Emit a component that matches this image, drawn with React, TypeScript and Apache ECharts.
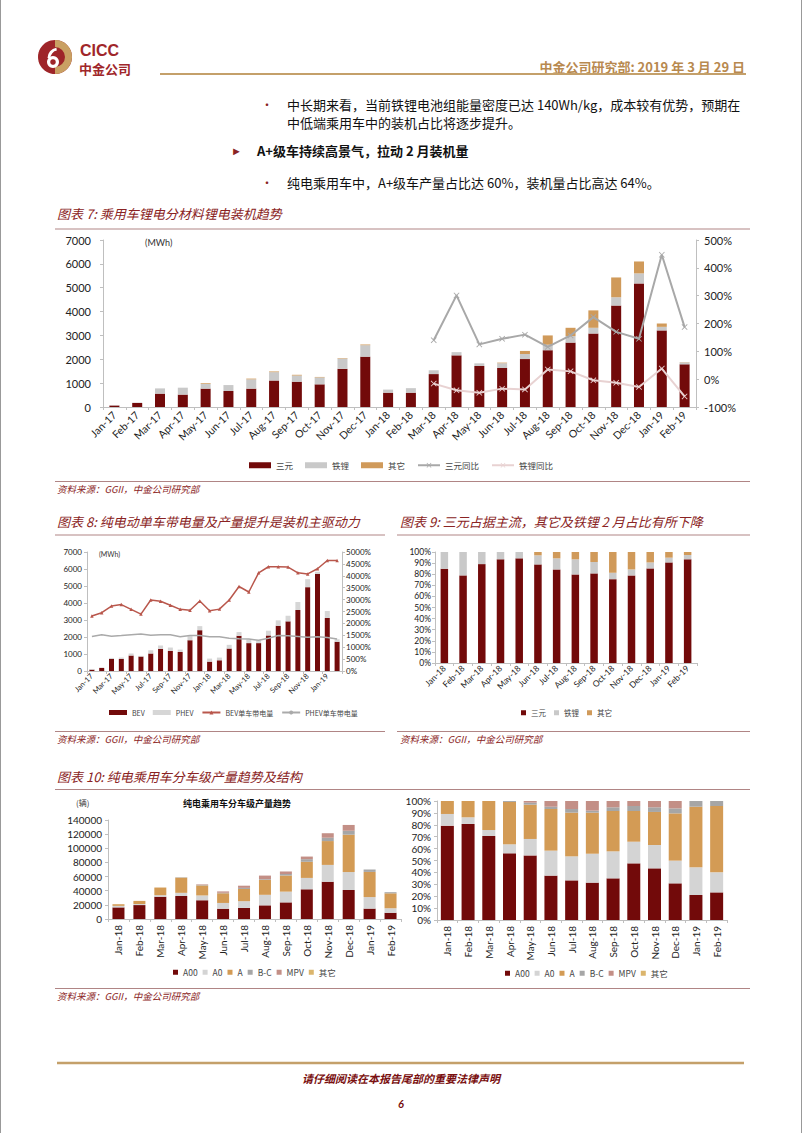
import React, { useEffect, useRef } from "react";
import * as echarts from "echarts";

// ---------- Data ----------
const months26 = [
  "Jan-17", "Feb-17", "Mar-17", "Apr-17", "May-17", "Jun-17", "Jul-17", "Aug-17", "Sep-17", "Oct-17", "Nov-17", "Dec-17",
  "Jan-18", "Feb-18", "Mar-18", "Apr-18", "May-18", "Jun-18", "Jul-18", "Aug-18", "Sep-18", "Oct-18", "Nov-18", "Dec-18",
  "Jan-19", "Feb-19",
];
const months14 = [
  "Jan-18", "Feb-18", "Mar-18", "Apr-18", "May-18", "Jun-18", "Jul-18", "Aug-18", "Sep-18", "Oct-18", "Nov-18", "Dec-18",
  "Jan-19", "Feb-19",
];
const yoyMonths = ["Mar-18", "Apr-18", "May-18", "Jun-18", "Jul-18", "Aug-18", "Sep-18", "Oct-18", "Nov-18", "Dec-18", "Jan-19", "Feb-19"];

// Chart 7 (MWh)
const c7Ternary = [60, 170, 560, 520, 770, 670, 770, 1110, 1060, 950, 1600, 2110, 600, 600, 1380, 2165, 1720, 1635, 2010, 2380, 2700, 3080, 4250, 5180, 3210, 1790];
const c7LFP = [10, 10, 220, 290, 200, 250, 390, 350, 260, 290, 430, 480, 130, 190, 160, 135, 110, 200, 210, 230, 270, 240, 350, 420, 150, 80];
const c7Other = [0, 0, 0, 0, 30, 0, 30, 30, 30, 20, 20, 30, 0, 0, 0, 0, 0, 25, 130, 390, 350, 730, 830, 500, 140, 10];
const c7TernaryYoY = [140, 301, 125, 145, 160, 116, 157, 223, 170, 145, 447, 187];
const c7LFPYoY = [-16, -40, -49, -34, -37, 35, 28, -4, -13, -28, 38, -62];
const c7LeftTicks = { min: 0, max: 7000, interval: 1000 };
const c7RightTicks = { min: -100, max: 500, interval: 100 };

// Chart 8
const c8BEV = [80, 180, 710, 710, 910, 850, 1030, 1300, 1180, 1120, 1810, 2400, 550, 630, 1320, 2070, 1640, 1640, 2090, 2660, 2920, 3590, 4930, 5720, 3120, 1720];
const c8PHEV = [40, 20, 60, 80, 120, 40, 190, 200, 200, 140, 240, 240, 180, 160, 220, 220, 210, 160, 280, 320, 330, 470, 470, 120, 410, 150];
const c8BEVPer = [2310, 2450, 2730, 2790, 2590, 2390, 2985, 2930, 2760, 2590, 2550, 2940, 2530, 2600, 2985, 3550, 3320, 4125, 4380, 4380, 4365, 4125, 4080, 4295, 4645, 4645];
const c8PHEVPer = [1450, 1520, 1465, 1490, 1520, 1550, 1505, 1520, 1520, 1435, 1490, 1490, 1435, 1435, 1380, 1350, 1340, 1295, 1380, 1490, 1480, 1450, 1420, 1435, 1410, 1340];
const c8LeftTicks = { min: 0, max: 7000, interval: 1000 };
const c8RightTicks = { min: 0, max: 5000, interval: 500 };

// Chart 9 (%)
const c9Ternary = [84.9, 78.9, 89.1, 93.4, 94.3, 88.8, 84.3, 79.8, 80.7, 75.5, 78.9, 85.2, 90.6, 93.4];
const c9LFP = [15.1, 21.1, 10.9, 6.6, 5.7, 8.2, 10.0, 13.6, 10.3, 5.8, 5.4, 5.4, 4.3, 3.9];
const c9Other = [0, 0, 0, 0, 0, 3.0, 5.7, 6.6, 9.0, 18.7, 15.7, 9.4, 5.1, 2.7];
const pctTicks = { min: 0, max: 100, interval: 10 };

// Chart 10 left (辆)
const c10A00 = [16400, 19700, 31500, 32500, 26500, 14500, 15700, 19300, 23500, 42000, 52700, 41000, 14700, 8800];
const c10A0 = [2200, 1500, 2200, 4500, 6800, 8200, 9500, 14900, 15200, 16100, 23800, 25400, 16300, 6400];
const c10A = [2300, 4400, 10800, 21500, 14200, 13700, 17300, 21200, 22800, 22800, 33700, 52800, 35600, 21100];
const c10BC = [0, 0, 0, 500, 800, 700, 1500, 1000, 2100, 3700, 4700, 5600, 3400, 1600];
const c10MPV = [0, 0, 0, 0, 700, 1900, 3100, 5000, 3600, 3700, 6400, 8200, 0, 0];
const c10Other = [0, 0, 0, 0, 0, 0, 0, 0, 0, 0, 0, 0, 0, 0];
const c10Ticks = { min: 0, max: 140000, interval: 20000 };

// Chart 10 right (%)
const c10pA00 = [79.3, 80.7, 70.6, 56.0, 54.3, 37.3, 33.3, 31.4, 35.0, 47.6, 43.4, 30.8, 21.0, 23.2];
const c10pA0 = [9.8, 5.6, 5.0, 7.6, 13.8, 21.0, 20.2, 24.3, 22.7, 18.2, 19.6, 19.1, 23.3, 16.9];
const c10pA = [10.9, 13.7, 24.4, 35.6, 28.8, 35.0, 36.7, 34.5, 33.9, 25.8, 27.8, 39.7, 50.9, 55.7];
const c10pBC = [0, 0, 0, 0.8, 1.7, 1.9, 3.1, 1.7, 3.1, 4.2, 3.9, 4.2, 4.8, 4.2];
const c10pMPV = [0, 0, 0, 0, 1.4, 4.8, 6.7, 8.1, 5.3, 4.2, 5.3, 6.2, 0, 0];
const c10pOther = [0, 0, 0, 0, 0, 0, 0, 0, 0, 0, 0, 0, 0, 0];

// ---------- Styles ----------
const DARK = "#720a0a";
const LGRAY = "#c9c9c9";
const ORANGE = "#d09a5a";
const RED = "#8a2323";
const GOLD = "#c4a06a";
const AXIS = "#bfbfbf";
const NUMFONT = 'Lato, "Noto Sans CJK SC", sans-serif';
const CJK = '"Noto Sans CJK SC", sans-serif';
const xSym = "path://M0,1L1,0L5,4L9,0L10,1L6,5L10,9L9,10L5,6L1,10L0,9L4,5Z";

function txt(x: number, y: number, text: string, o: any = {}) {
  return {
    type: "text",
    x,
    y,
    silent: true,
    style: {
      text,
      fill: o.fill || "#111",
      fontSize: o.size || 12,
      fontFamily: o.family || CJK,
      fontWeight: o.weight || "normal",
      fontStyle: o.style || "normal",
      align: o.align || "left",
      textAlign: o.align || "left",
      verticalAlign: "middle",
      textVerticalAlign: "middle",
    },
  };
}
function hline(x1: number, x2: number, y: number, stroke: string, w = 1) {
  return { type: "line", silent: true, shape: { x1, y1: y, x2, y2: y }, style: { stroke, lineWidth: w } };
}

function catAxis(grid: number, data: string[], o: any = {}) {
  return {
    type: "category",
    gridIndex: grid,
    data,
    boundaryGap: true,
    axisLine: { show: true, lineStyle: { color: AXIS } },
    axisTick: { show: true, length: 3, lineStyle: { color: AXIS } },
    axisLabel: {
      interval: o.interval ?? 0,
      rotate: o.rotate ?? 45,
      fontSize: o.fontSize ?? 10,
      color: "#222",
      fontFamily: NUMFONT,
      margin: o.margin ?? 5,
    },
  };
}
function valAxis(grid: number, t: any, o: any = {}) {
  return {
    type: "value",
    gridIndex: grid,
    position: o.position || "left",
    min: t.min,
    max: t.max,
    interval: t.interval,
    splitLine: { show: false },
    axisLine: { show: true, lineStyle: { color: AXIS } },
    axisTick: { show: true, length: 3, lineStyle: { color: AXIS } },
    axisLabel: {
      fontSize: o.fontSize ?? 10,
      color: "#222",
      fontFamily: NUMFONT,
      margin: o.margin ?? 6,
      formatter: o.pct ? (v: number) => `${v}%` : (v: number) => `${v}`,
    },
  };
}
function bar(name: string, data: number[], xi: number, yi: number, stack: string, color: string, w: number) {
  return {
    type: "bar",
    name,
    data,
    xAxisIndex: xi,
    yAxisIndex: yi,
    stack,
    barWidth: w,
    itemStyle: { color },
  };
}

export default function App() {
  const ref = useRef<HTMLDivElement>(null);
  useEffect(() => {
    if (!ref.current) return;
    const chart = echarts.init(ref.current, undefined, { renderer: "svg" });

    const graphics: any[] = [
      // page frame
      { type: "line", silent: true, shape: { x1: 0.5, y1: 0, x2: 0.5, y2: 1133 }, style: { stroke: "#999", lineWidth: 1 } },
      { type: "line", silent: true, shape: { x1: 801.5, y1: 0, x2: 801.5, y2: 1133 }, style: { stroke: "#999", lineWidth: 1 } },
      // logo
      { type: "circle", silent: true, shape: { cx: 55, cy: 57, r: 17 }, style: { fill: "#9e2529" } },
      { type: "sector", silent: true, shape: { cx: 55, cy: 57, r: 17, r0: 10, startAngle: -Math.PI / 2, endAngle: Math.PI / 2 }, style: { fill: "#c9a063" } },
      { type: "circle", silent: true, shape: { cx: 53, cy: 62, r: 6 }, style: { fill: "#fff" } },
      { type: "circle", silent: true, shape: { cx: 53, cy: 62, r: 2.8 }, style: { fill: "#9e2529" } },
      { type: "arc", silent: true, shape: { cx: 58, cy: 58, r: 9, startAngle: Math.PI, endAngle: Math.PI * 1.45 }, style: { stroke: "#fff", lineWidth: 3, fill: "none" } },
      txt(80, 50, "CICC", { size: 16, weight: "bold", fill: "#a0262a", family: '"Liberation Sans", sans-serif' }),
      txt(79, 68, "中金公司", { size: 13, weight: "bold", fill: "#a0262a" }),
      txt(745, 66, "中金公司研究部: 2019 年 3 月 29 日", { size: 13, weight: "bold", fill: "#b8894f", align: "right" }),
      hline(160, 746, 74, GOLD, 2),
      // body text
      txt(261, 104, "•", { size: 12, fill: RED }),
      txt(287, 104, "中长期来看，当前铁锂电池组能量密度已达 140Wh/kg，成本较有优势，预期在", { size: 13 }),
      txt(287, 122, "中低端乘用车中的装机占比将逐步提升。", { size: 13 }),
      txt(231, 150, "►", { size: 11, fill: RED }),
      txt(257, 150, "A+级车持续高景气，拉动 2 月装机量", { size: 13, weight: "bold" }),
      txt(261, 182, "•", { size: 12, fill: RED }),
      txt(287, 182, "纯电乘用车中，A+级车产量占比达 60%，装机量占比高达 64%。", { size: 13 }),
      // chart 7 frame
      txt(57, 213, "图表 7: 乘用车锂电分材料锂电装机趋势", { size: 13, fill: RED, style: "italic" }),
      hline(55, 750, 229, "#b08585", 1),
      txt(145, 242, "(MWh)", { size: 9, fill: "#333", family: NUMFONT }),
      hline(55, 750, 481.5, "#b08585", 1),
      txt(57, 489, "资料来源：GGII，中金公司研究部", { size: 9.5, fill: RED, style: "italic" }),
      // chart 8/9 frame
      txt(57, 521, "图表 8: 纯电动单车带电量及产量提升是装机主驱动力", { size: 13, fill: RED, style: "italic" }),
      hline(55, 385, 535, "#b08585", 1),
      txt(400, 521, "图表 9: 三元占据主流，其它及铁锂 2 月占比有所下降", { size: 13, fill: RED, style: "italic" }),
      hline(397, 750, 535, "#b08585", 1),
      txt(99, 554, "(MWh)", { size: 7, fill: "#333", family: NUMFONT }),
      hline(55, 385, 731.5, "#b08585", 1),
      hline(397, 750, 731.5, "#b08585", 1),
      txt(57, 739, "资料来源：GGII，中金公司研究部", { size: 9.5, fill: RED, style: "italic" }),
      txt(400, 739, "资料来源：GGII，中金公司研究部", { size: 9.5, fill: RED, style: "italic" }),
      // chart 10 frame
      txt(57, 776, "图表 10: 纯电乘用车分车级产量趋势及结构", { size: 13, fill: RED, style: "italic" }),
      hline(55, 750, 789.5, "#b08585", 1),
      txt(76, 802, "(辆)", { size: 8, fill: "#333" }),
      txt(237, 803, "纯电乘用车分车级产量趋势", { size: 9, weight: "bold", fill: "#111", align: "center" }),
      hline(55, 750, 988.5, "#b08585", 1),
      txt(57, 996, "资料来源：GGII，中金公司研究部", { size: 9.5, fill: RED, style: "italic" }),
      // footer
      hline(57, 744, 1063, GOLD, 2.5),
      txt(401, 1078, "请仔细阅读在本报告尾部的重要法律声明", { size: 11, weight: "bold", style: "italic", fill: "#7a1010", align: "center" }),
      txt(401, 1103, "6", { size: 11, weight: "bold", style: "italic", fill: "#7a1010", align: "center", family: NUMFONT }),
    ];

    const legendText = (size: number) => ({ fontSize: size, color: "#444", fontFamily: CJK });

    const option: any = {
      animation: false,
      backgroundColor: "#fff",
      textStyle: { fontFamily: NUMFONT },
      grid: [
        { left: 103, top: 240, width: 593, height: 167 },
        { left: 87, top: 552, width: 255, height: 119 },
        { left: 435, top: 552, width: 262, height: 111 },
        { left: 108, top: 820, width: 293, height: 99 },
        { left: 437, top: 801, width: 290, height: 119 },
      ],
      xAxis: [
        catAxis(0, months26, { fontSize: 10.5, margin: 6 }),
        catAxis(1, months26, { interval: 1, fontSize: 7.5, margin: 4 }),
        catAxis(2, months14, { fontSize: 8.5, margin: 4 }),
        catAxis(3, months14, { rotate: 90, fontSize: 10, margin: 6 }),
        catAxis(4, months14, { rotate: 90, fontSize: 10, margin: 6 }),
      ],
      yAxis: [
        valAxis(0, c7LeftTicks, { fontSize: 11, margin: 12 }),
        valAxis(0, c7RightTicks, { position: "right", pct: true, fontSize: 11, margin: 8 }),
        valAxis(1, c8LeftTicks, { fontSize: 8, margin: 5 }),
        valAxis(1, c8RightTicks, { position: "right", pct: true, fontSize: 8, margin: 4 }),
        valAxis(2, pctTicks, { pct: true, fontSize: 8.5, margin: 4 }),
        valAxis(3, c10Ticks, { fontSize: 10, margin: 6 }),
        valAxis(4, pctTicks, { pct: true, fontSize: 10, margin: 6 }),
      ],
      legend: [
        {
          left: "center",
          top: 456,
          itemWidth: 22,
          itemHeight: 6,
          itemGap: 12,
          textStyle: legendText(8.5),
          data: [
            { name: "三元", icon: "rect" },
            { name: "铁锂", icon: "rect" },
            { name: "其它", icon: "rect", itemStyle: { color: ORANGE } },
            { name: "三元同比" },
            { name: "铁锂同比" },
          ],
        },
        {
          left: 104,
          top: 704,
          itemWidth: 18,
          itemHeight: 5,
          itemGap: 8,
          textStyle: legendText(7),
          data: [
            { name: "BEV", icon: "rect" },
            { name: "PHEV", icon: "rect" },
            { name: "BEV单车带电量" },
            { name: "PHEV单车带电量" },
          ],
        },
        {
          left: 516,
          top: 704,
          itemWidth: 5,
          itemHeight: 5,
          itemGap: 8,
          icon: "rect",
          textStyle: legendText(7.5),
          data: [
            { name: "三元" },
            { name: "铁锂" },
            { name: "其它", itemStyle: { color: ORANGE } },
          ],
        },
        {
          left: 168,
          top: 963,
          itemWidth: 5,
          itemHeight: 5,
          itemGap: 5,
          icon: "rect",
          textStyle: legendText(8.5),
          data: [
            { name: "A00" },
            { name: "A0" },
            { name: "A" },
            { name: "B-C" },
            { name: "MPV" },
            { name: "其它", itemStyle: { color: "#dbb56c" } },
          ],
        },
        {
          left: 500,
          top: 964,
          itemWidth: 5,
          itemHeight: 5,
          itemGap: 5,
          icon: "rect",
          textStyle: legendText(8.5),
          data: [
            { name: "A00" },
            { name: "A0" },
            { name: "A" },
            { name: "B-C" },
            { name: "MPV" },
            { name: "其它", itemStyle: { color: "#dbb56c" } },
          ],
        },
      ],
      series: [
        // chart 7
        bar("三元", c7Ternary, 0, 0, "s7", DARK, 10),
        bar("铁锂", c7LFP, 0, 0, "s7", LGRAY, 10),
        bar("其它", c7Other, 0, 0, "s7", ORANGE, 10),
        {
          type: "line",
          name: "三元同比",
          xAxisIndex: 0,
          yAxisIndex: 1,
          data: yoyMonths.map((m, i) => [m, c7TernaryYoY[i]]),
          symbol: xSym,
          symbolSize: 6,
          lineStyle: { color: "#a8a8a8", width: 2 },
          itemStyle: { color: "#a8a8a8" },
        },
        {
          type: "line",
          name: "铁锂同比",
          xAxisIndex: 0,
          yAxisIndex: 1,
          data: yoyMonths.map((m, i) => [m, c7LFPYoY[i]]),
          symbol: xSym,
          symbolSize: 6,
          lineStyle: { color: "#e8d2d2", width: 2 },
          itemStyle: { color: "#e8d2d2" },
        },
        // chart 8
        bar("BEV", c8BEV, 1, 2, "s8", DARK, 5),
        bar("PHEV", c8PHEV, 1, 2, "s8", "#d6d6d6", 5),
        {
          type: "line",
          name: "BEV单车带电量",
          xAxisIndex: 1,
          yAxisIndex: 3,
          data: c8BEVPer,
          symbol: "triangle",
          symbolSize: 3.5,
          lineStyle: { color: "#b9574c", width: 1.5 },
          itemStyle: { color: "#b9574c" },
        },
        {
          type: "line",
          name: "PHEV单车带电量",
          xAxisIndex: 1,
          yAxisIndex: 3,
          data: c8PHEVPer,
          symbol: "none",
          lineStyle: { color: "#aaaaaa", width: 1.5 },
          itemStyle: { color: "#aaaaaa" },
        },
        // chart 9
        bar("三元", c9Ternary, 2, 4, "s9", DARK, 7.5),
        bar("铁锂", c9LFP, 2, 4, "s9", LGRAY, 7.5),
        bar("其它", c9Other, 2, 4, "s9", ORANGE, 7.5),
        // chart 10 left
        bar("A00", c10A00, 3, 5, "s10", DARK, 12),
        bar("A0", c10A0, 3, 5, "s10", "#d4d4d4", 12),
        bar("A", c10A, 3, 5, "s10", "#d39b55", 12),
        bar("B-C", c10BC, 3, 5, "s10", "#a6a6a6", 12),
        bar("MPV", c10MPV, 3, 5, "s10", "#c38f86", 12),
        bar("其它", c10Other, 3, 5, "s10", "#dbb56c", 12),
        // chart 10 right
        bar("A00", c10pA00, 4, 6, "s11", DARK, 13),
        bar("A0", c10pA0, 4, 6, "s11", "#d4d4d4", 13),
        bar("A", c10pA, 4, 6, "s11", "#d39b55", 13),
        bar("B-C", c10pBC, 4, 6, "s11", "#a6a6a6", 13),
        bar("MPV", c10pMPV, 4, 6, "s11", "#c38f86", 13),
        bar("其它", c10pOther, 4, 6, "s11", "#dbb56c", 13),
      ],
      graphic: { elements: graphics },
    };

    chart.setOption(option);
    return () => chart.dispose();
  }, []);

  return (
    <div
      ref={ref}
      style={{ position: "absolute", left: 0, top: 0, width: 802, height: 1133, background: "#fff" }}
    />
  );
}
